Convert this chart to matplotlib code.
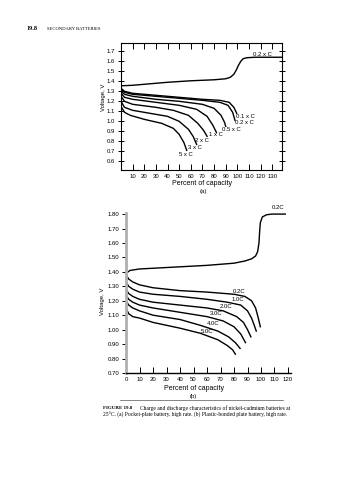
import matplotlib
matplotlib.use("Agg")
import matplotlib.pyplot as plt

# (a) pocket-plate battery, high rate
a_charge_x = [0, 10, 20, 40, 60, 80, 90, 94, 97, 99, 101, 103, 105, 108, 115, 138]
a_charge_v = [1.355, 1.36, 1.37, 1.39, 1.405, 1.415, 1.425, 1.44, 1.47, 1.51, 1.56, 1.60, 1.625, 1.635, 1.64, 1.64]

a_rates = ["0.1 x C", "0.2 x C", "0.5 x C", "1 x C", "2 x C", "3 x C", "5 x C"]
a_dis_x = [
    [0, 3, 10, 30, 50, 70, 85, 93, 97, 99.5],
    [0, 3, 10, 30, 50, 70, 85, 92, 96, 98],
    [0, 3, 10, 30, 50, 70, 80, 86, 89, 90],
    [0, 3, 10, 30, 50, 65, 74, 79, 82],
    [0, 3, 10, 30, 45, 58, 66, 71, 74],
    [0, 3, 10, 25, 40, 50, 58, 62, 65],
    [0, 3, 8, 20, 35, 45, 50, 54, 56.5],
]
a_dis_v = [
    [1.33, 1.30, 1.28, 1.26, 1.24, 1.22, 1.21, 1.19, 1.14, 1.08],
    [1.32, 1.29, 1.27, 1.25, 1.23, 1.21, 1.19, 1.16, 1.09, 1.01],
    [1.30, 1.27, 1.25, 1.22, 1.20, 1.17, 1.13, 1.06, 0.99, 0.95],
    [1.28, 1.24, 1.22, 1.19, 1.16, 1.12, 1.05, 0.96, 0.89],
    [1.25, 1.20, 1.17, 1.14, 1.11, 1.06, 0.98, 0.91, 0.85],
    [1.20, 1.14, 1.11, 1.08, 1.05, 1.00, 0.92, 0.85, 0.77],
    [1.15, 1.09, 1.06, 1.02, 0.98, 0.93, 0.87, 0.79, 0.71],
]
a_label_pos = [(107, 1.05), (106, 0.99), (95, 0.92), (82, 0.87), (70, 0.81), (63.4, 0.74), (56, 0.67)]

# (b) plastic-bonded plate battery, high rate
b_charge_x = [0, 3, 10, 30, 60, 80, 88, 93, 96, 97.5, 98.5, 99, 99.5, 101, 104, 108, 118]
b_charge_v = [1.39, 1.41, 1.42, 1.43, 1.445, 1.46, 1.475, 1.49, 1.51, 1.54, 1.60, 1.68, 1.74, 1.78, 1.795, 1.80, 1.80]

b_rates = ["0.2C", "1.0C", "2.0C", "3.0C", "4.0C", "5.0C"]
b_dis_x = [
    [0, 2, 5, 10, 20, 40, 60, 80, 88, 93, 96, 98, 99.5],
    [0, 2, 5, 10, 20, 40, 60, 75, 85, 90, 93, 95, 96.5],
    [0, 2, 5, 10, 20, 40, 60, 72, 82, 87, 90, 92.5],
    [0, 2, 5, 10, 20, 40, 60, 72, 80, 85, 88.5],
    [0, 2, 5, 10, 20, 40, 55, 68, 76, 81, 84.5],
    [0, 2, 5, 10, 20, 40, 55, 68, 75, 79, 81],
]
b_dis_v = [
    [1.38, 1.35, 1.33, 1.31, 1.29, 1.27, 1.26, 1.245, 1.23, 1.20, 1.15, 1.08, 1.02],
    [1.33, 1.30, 1.28, 1.26, 1.245, 1.23, 1.21, 1.19, 1.17, 1.13, 1.08, 1.03, 0.99],
    [1.28, 1.25, 1.23, 1.21, 1.19, 1.17, 1.15, 1.13, 1.09, 1.05, 1.00, 0.95],
    [1.24, 1.21, 1.19, 1.17, 1.15, 1.12, 1.09, 1.06, 1.02, 0.97, 0.91],
    [1.20, 1.17, 1.15, 1.13, 1.10, 1.07, 1.03, 0.99, 0.95, 0.91, 0.87],
    [1.15, 1.11, 1.09, 1.08, 1.05, 1.01, 0.975, 0.93, 0.89, 0.86, 0.83],
]
b_label_pos = [(84, 1.265), (83, 1.21), (74, 1.16), (67, 1.11), (64.7, 1.04), (59.8, 0.985)]

plt.rcParams['font.family'] = ['Liberation Sans', 'DejaVu Sans']
fs = 4.3

fig = plt.figure(figsize=(3.58, 4.80), dpi=100)

# ---- chart (a)
ax = fig.add_axes([0.338, 0.646, 0.450, 0.265])
ax.plot(a_charge_x, a_charge_v, color='black', lw=1.0)
for xs, vs in zip(a_dis_x, a_dis_v):
  ax.plot(xs, vs, color='black', lw=1.0)
for lab, (x, y) in zip(a_rates, a_label_pos):
  ax.text(x, y, lab, fontsize=fs, ha='center', va='center')
ax.text(122, 1.67, "0.2 x C", fontsize=fs, ha='center', va='center')
ax.set_xlim(0, 138.5)
ax.set_ylim(0.515, 1.785)
ax.set_xticks(range(10, 131, 10))
ax.set_yticks([0.6, 0.7, 0.8, 0.9, 1.0, 1.1, 1.2, 1.3, 1.4, 1.5, 1.6, 1.7])
ax.set_yticklabels(["0.6", "0.7", "0.8", "0.9", "1.0", "1.1", "1.2", "1.3", "1.4", "1.5", "1.6", "1.7"])
ax.tick_params(axis='x', direction='in', top=True, length=4, width=0.7, labelsize=fs, pad=3)
ax.tick_params(axis='y', direction='inout', right=True, length=5, width=0.7, labelsize=fs, pad=2)
for s in ax.spines.values():
  s.set_linewidth(0.8)
ax.set_xlabel("Percent of capacity", fontsize=fs + 0.7, labelpad=1)
ax.set_ylabel("Voltage, V", fontsize=fs)
ax.yaxis.set_label_coords(-0.095, 0.57)
ax.text(0.51, -0.17, "(a)", transform=ax.transAxes, fontsize=fs, ha='center', va='center')

# ---- chart (b)
bx = fig.add_axes([0.352, 0.223, 0.460, 0.334])
bx.plot(b_charge_x, b_charge_v, color='black', lw=1.0, clip_on=False)
for xs, vs in zip(b_dis_x, b_dis_v):
  bx.plot(xs, vs, color='black', lw=1.0)
for lab, (x, y) in zip(b_rates, b_label_pos):
  bx.text(x, y, lab, fontsize=fs, ha='center', va='center')
bx.text(113, 1.845, "0.2C", fontsize=fs, ha='center', va='center')
bx.set_xlim(0, 122)
bx.set_ylim(0.70, 1.81)
bx.set_xticks(range(0, 121, 10))
yt = [0.70, 0.80, 0.90, 1.00, 1.10, 1.20, 1.30, 1.40, 1.50, 1.60, 1.70, 1.80]
bx.set_yticks(yt)
bx.set_yticklabels(["%.2f" % v for v in yt])
bx.spines['top'].set_visible(False)
bx.spines['right'].set_visible(False)
bx.spines['left'].set_color('#b0b0b0')
bx.spines['left'].set_linewidth(2.0)
bx.spines['bottom'].set_linewidth(1.0)
bx.tick_params(axis='x', direction='in', length=4, width=0.7, labelsize=fs, pad=3)
bx.tick_params(axis='y', direction='out', length=3, width=0.7, labelsize=fs, pad=2)
bx.set_xlabel("Percent of capacity", fontsize=fs + 0.7, labelpad=1)
bx.xaxis.set_label_coords(0.41, -0.075)
bx.set_ylabel("Voltage, V", fontsize=fs)
bx.yaxis.set_label_coords(-0.125, 0.45)
bx.text(0.41, -0.145, "(b)", transform=bx.transAxes, fontsize=fs, ha='center', va='center')

# ---- page furniture
fig.text(0.075, 0.94, "19.8", fontsize=4.5, fontweight='bold', family='Liberation Serif', va='center')
fig.text(0.13, 0.94, "SECONDARY BATTERIES", fontsize=3.3, family='Liberation Serif', va='center')
fig.add_artist(plt.Line2D([0.335, 0.79], [0.1667, 0.1667], color='#555555', lw=0.5))
fig.text(0.288, 0.150, "FIGURE 19.8", fontsize=3.6, fontweight='bold', family='Liberation Serif', va='center')
fig.text(0.391, 0.150, "Charge and discharge characteristics of nickel-cadmium batteries at",
         fontsize=4.0, family='Liberation Serif', va='center')
fig.text(0.288, 0.135, "25\u00b0C. (a) Pocket-plate battery, high rate. (b) Plastic-bonded plate battery, high rate.",
         fontsize=4.0, family='Liberation Serif', va='center')

fig.savefig("out.png", dpi=100)
